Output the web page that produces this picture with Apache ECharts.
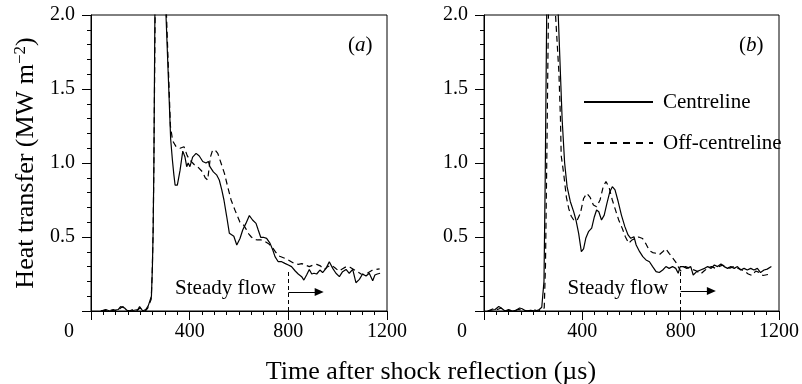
<!DOCTYPE html>
<html>
<head>
<meta charset="utf-8">
<title>Heat transfer after shock reflection</title>
<script src="https://cdn.jsdelivr.net/npm/echarts@6/dist/echarts.min.js"></script>
<style>
  html, body { margin: 0; padding: 0; background: #fff; }
  #chart { width: 802px; height: 384px; }
</style>
</head>
<body>
<div id="chart"></div>
<script>
// Heat-transfer traces, [time (µs), heat transfer (MW m^-2)]
// Panel (a)
const aCentre = [
  [40,0],[60,0.01],[75,0],[95,0.005],[110,0.01],[120,0.03],[128,0.035],[136,0.02],[145,0.005],
  [160,0],[175,0.005],[190,0.01],[197,0.03],[203,0.025],[210,0],[222,0.01],[232,0.035],[240,0.04],
  [245,0.1],[249,0.3],[252,0.55],[255,1.0],[259,2.0],[281,3.4],[304,2.0],[323,1.16],[330,1.02],
  [336,0.92],[341,0.85],[350,0.85],[361,0.95],[372,1.08],[381,1.04],[388,0.975],[394,1.0],
  [401,0.975],[412,1.04],[426,1.065],[439,1.047],[453,1.01],[466,1.0],[476,1.01],[482,0.975],
  [496,0.94],[509,0.92],[520,0.885],[530,0.82],[539,0.75],[550,0.64],[561,0.525],[570,0.515],
  [579,0.505],[591,0.446],[604,0.49],[615,0.547],[628,0.592],[642,0.645],[655,0.615],[669,0.592],
  [678,0.547],[688,0.498],[699,0.498],[712,0.491],[726,0.457],[737,0.412],[746,0.367],[759,0.333],
  [773,0.333],[786,0.322],[800,0.311],[813,0.3],[827,0.272],[840,0.25],[854,0.232],[863,0.209],
  [874,0.243],[885,0.281],[895,0.25],[904,0.255],[915,0.25],[928,0.277],[939,0.26],[953,0.288],
  [966,0.333],[980,0.288],[993,0.255],[1007,0.232],[1020,0.266],[1034,0.281],[1047,0.255],
  [1061,0.281],[1074,0.191],[1088,0.214],[1101,0.25],[1115,0.236],[1128,0.255],[1142,0.205],
  [1151,0.243],[1161,0.25],[1172,0.255]
];
const aOff = [
  [40,0],[55,0.005],[70,0],[90,0.01],[105,0],[120,0.02],[130,0.03],[140,0.01],[155,0],[170,0.01],
  [185,0],[198,0.02],[206,0.01],[220,0],[230,0.02],[238,0.03],[244,0.08],[248,0.25],[252,0.55],
  [255,1.0],[260,2.0],[283,3.3],[306,2.0],[322,1.25],[331,1.15],[345,1.11],[361,1.1],[377,1.11],
  [390,1.05],[401,1.02],[418,0.99],[432,0.975],[452,0.94],[463,0.9],[473,0.885],[484,1.04],
  [493,1.087],[503,1.087],[514,1.065],[527,1.0],[541,0.93],[554,0.84],[568,0.75],[584,0.68],
  [604,0.6],[619,0.58],[630,0.55],[640,0.52],[650,0.5],[662,0.485],[675,0.48],[690,0.48],
  [705,0.47],[720,0.455],[735,0.43],[750,0.395],[765,0.37],[780,0.36],[795,0.35],[810,0.335],
  [825,0.32],[840,0.315],[855,0.32],[870,0.31],[885,0.3],[900,0.31],[915,0.315],[930,0.305],
  [945,0.28],[960,0.3],[975,0.31],[990,0.29],[1005,0.27],[1020,0.285],[1035,0.3],[1050,0.295],
  [1065,0.28],[1080,0.265],[1095,0.25],[1110,0.245],[1125,0.26],[1140,0.275],[1155,0.28],[1170,0.285]
];
// Panel (b)
const bCentre = [
  [15,0],[30,0.005],[45,0.01],[60,0.03],[70,0.02],[85,0],[100,0.01],[115,0],[130,0.005],[145,0.02],
  [155,0.015],[170,0],[190,0.005],[210,0],[225,0.01],[235,0.025],[240,0.02],[244,0.2],[249,0.9],
  [255,2.0],[279,3.6],[302,2.0],[318,1.29],[328,1.0],[338,0.84],[351,0.74],[365,0.67],[374,0.615],
  [385,0.525],[396,0.401],[405,0.42],[414,0.491],[425,0.536],[438,0.56],[449,0.637],[458,0.682],
  [467,0.671],[478,0.615],[489,0.648],[500,0.727],[512,0.806],[522,0.84],[533,0.818],[546,0.738],
  [559,0.648],[573,0.57],[586,0.514],[597,0.491],[610,0.502],[619,0.446],[633,0.401],[646,0.367],
  [659,0.345],[673,0.333],[686,0.3],[700,0.266],[713,0.26],[727,0.277],[740,0.3],[753,0.288],
  [767,0.3],[780,0.288],[790,0.255],[798,0.3],[811,0.3],[825,0.288],[841,0.3],[851,0.243],
  [865,0.266],[881,0.277],[897,0.288],[910,0.3],[924,0.288],[937,0.311],[950,0.3],[964,0.317],
  [977,0.3],[991,0.288],[1004,0.3],[1018,0.288],[1031,0.3],[1044,0.277],[1058,0.288],[1071,0.277],
  [1085,0.288],[1098,0.277],[1112,0.288],[1125,0.26],[1139,0.277],[1152,0.283],[1169,0.3]
];
const bOff = [
  [15,0],[30,0.01],[45,0.02],[55,0.01],[70,0.02],[80,0],[100,0.005],[120,0],[140,0.01],[160,0.005],
  [180,0],[200,0.01],[220,0],[235,0.01],[245,0.02],[250,0.3],[256,1.1],[262,2.0],[276,3.2],
  [291,2.0],[305,1.6],[311,1.3],[314,1.05],[324,0.93],[335,0.77],[345,0.69],[355,0.64],[365,0.615],
  [378,0.61],[392,0.66],[405,0.76],[418,0.795],[431,0.77],[445,0.716],[458,0.705],[472,0.75],
  [485,0.84],[496,0.874],[508,0.84],[522,0.75],[535,0.682],[548,0.615],[562,0.56],[575,0.502],
  [589,0.457],[602,0.48],[616,0.491],[629,0.5],[645,0.49],[660,0.45],[672,0.41],[686,0.395],
  [700,0.39],[713,0.38],[727,0.4],[740,0.42],[753,0.39],[767,0.36],[780,0.33],[790,0.3],[800,0.27],
  [810,0.29],[820,0.3],[835,0.29],[850,0.28],[865,0.27],[881,0.25],[895,0.27],[910,0.29],[925,0.3],
  [940,0.29],[955,0.3],[970,0.31],[985,0.3],[1000,0.29],[1015,0.3],[1030,0.29],[1045,0.28],
  [1060,0.27],[1075,0.25],[1090,0.24],[1105,0.27],[1120,0.26],[1135,0.24],[1150,0.245],[1165,0.25]
];

// Axis ranges and tick spacing
const timeRange = [0, 1200];
const timeStep = 400;
const heatRange = [0, 2];
const heatStep = 0.5;

// Start of the steady-flow period and its annotation
const steadyStart = 800;
const steadyMarkerTop = [0.265, 0.278];
const steadyArrowEnd = 925;
const steadyArrowLevel = [0.128, 0.135];
const steadyLabelAt = [750, 0.155];

const SERIF = 'Liberation Serif';
const INK = '#000';

const chart = echarts.init(document.getElementById('chart'), null, { renderer: 'canvas' });

function makeXAxis(gridIndex) {
  return {
    type: 'value', gridIndex,
    min: timeRange[0], max: timeRange[1], interval: timeStep,
    axisLine: { show: true, onZero: false, lineStyle: { color: INK, width: 1 } },
    axisTick: { show: true, inside: false, length: 9, lineStyle: { color: INK, width: 1 } },
    minorTick: { show: true, splitNumber: 8, length: 4, lineStyle: { color: INK, width: 1 } },
    splitLine: { show: false },
    axisLabel: {
      color: INK, fontFamily: SERIF, fontSize: 20, margin: 11,
      formatter: v => (v === 0 ? '{z|0}' : String(v)),
      rich: { z: { fontFamily: SERIF, fontSize: 20, color: INK, padding: [0, 44, 0, 0] } }
    }
  };
}

function makeYAxis(gridIndex, withName) {
  const ax = {
    type: 'value', gridIndex,
    min: heatRange[0], max: heatRange[1], interval: heatStep,
    axisLine: { show: true, onZero: false, lineStyle: { color: INK, width: 1 } },
    axisTick: { show: true, inside: false, length: 9, lineStyle: { color: INK, width: 1 } },
    minorTick: { show: true, splitNumber: 5, length: 4, lineStyle: { color: INK, width: 1 } },
    splitLine: { show: false },
    axisLabel: {
      color: INK, fontFamily: SERIF, fontSize: 20, margin: 16,
      formatter: v => (v === 0 ? '' : v.toFixed(1))
    }
  };
  if (withName) {
    ax.name = '{t|Heat transfer (MW m}{s|\u22122}{t|)}';
    ax.nameLocation = 'middle';
    ax.nameGap = 50;
    ax.nameRotate = 90;
    ax.nameTextStyle = {
      rich: {
        t: { fontFamily: SERIF, fontSize: 26, color: INK },
        s: { fontFamily: SERIF, fontSize: 17, color: INK, padding: [0, 0, 12, 0] }
      }
    };
  }
  return ax;
}

function steadyMarks(panel) {
  return {
    markLine: {
      silent: true,
      animation: false,
      label: { show: false },
      data: [
        [
          { coord: [steadyStart, 0], symbol: 'none', lineStyle: { color: INK, width: 1, type: [4, 3] } },
          { coord: [steadyStart, steadyMarkerTop[panel]], symbol: 'none' }
        ],
        [
          { coord: [steadyStart, steadyArrowLevel[panel]], symbol: 'none', lineStyle: { color: INK, width: 1, type: 'solid' } },
          { coord: [steadyArrowEnd, steadyArrowLevel[panel]], symbol: 'triangle', symbolSize: [8, 9] }
        ]
      ]
    },
    markPoint: {
      silent: true,
      animation: false,
      symbol: 'circle',
      symbolSize: 0,
      data: [{ coord: steadyLabelAt }],
      label: {
        show: true, position: 'left', distance: 0,
        formatter: 'Steady flow',
        fontFamily: SERIF, fontSize: 21, color: INK
      }
    }
  };
}

function trace(name, data, panel, dashed, extra) {
  return Object.assign({
    name, type: 'line', data,
    xAxisIndex: panel, yAxisIndex: panel,
    symbol: 'none', showSymbol: false, clip: true,
    lineStyle: { color: INK, width: 1.2, type: dashed ? [6, 4] : 'solid' },
    itemStyle: { color: INK },
    emphasis: { disabled: true },
    z: dashed ? 3 : 4
  }, extra || {});
}

const panelLabel = (txt, left) => ({
  text: '{p|(}{i|' + txt + '}{p|)}',
  left, top: 30,
  textStyle: {
    fontWeight: 'normal',
    rich: {
      p: { fontFamily: SERIF, fontSize: 21, color: INK, fontWeight: 'normal' },
      i: { fontFamily: SERIF, fontSize: 21, color: INK, fontWeight: 'normal', fontStyle: 'italic' }
    }
  }
});

chart.setOption({
  animation: false,
  backgroundColor: '#fff',
  textStyle: { fontFamily: SERIF, color: INK },
  title: [
    panelLabel('a', 343),
    panelLabel('b', 734),
    {
      text: 'Time after shock reflection (\u00b5s)',
      left: 426, top: 354, textAlign: 'center',
      textStyle: { fontFamily: SERIF, fontSize: 26, fontWeight: 'normal', color: INK }
    }
  ],
  grid: [
    { left: 91, top: 15, width: 296, height: 296, show: true, borderColor: INK, borderWidth: 1, backgroundColor: 'transparent' },
    { left: 484, top: 15, width: 299, height: 296, show: true, borderColor: INK, borderWidth: 1, backgroundColor: 'transparent' }
  ],
  xAxis: [makeXAxis(0), makeXAxis(1)],
  yAxis: [makeYAxis(0, true), makeYAxis(1, false)],
  legend: {
    left: 583, top: 91, orient: 'vertical',
    padding: 0, itemWidth: 69, itemHeight: 22, itemGap: 19,
    selectedMode: false,
    itemStyle: { opacity: 0, borderWidth: 0 },
    data: [
      { name: 'Centreline' },
      { name: 'Off-centreline', lineStyle: { type: [7, 6] } }
    ],
    textStyle: { fontFamily: SERIF, fontSize: 21, color: INK, lineHeight: 22, padding: [0, 0, 0, 5] }
  },
  series: [
    trace('Centreline', aCentre, 0, false, steadyMarks(0)),
    trace('Off-centreline', aOff, 0, true),
    trace('Centreline', bCentre, 1, false, steadyMarks(1)),
    trace('Off-centreline', bOff, 1, true)
  ]
});
</script>
</body>
</html>
